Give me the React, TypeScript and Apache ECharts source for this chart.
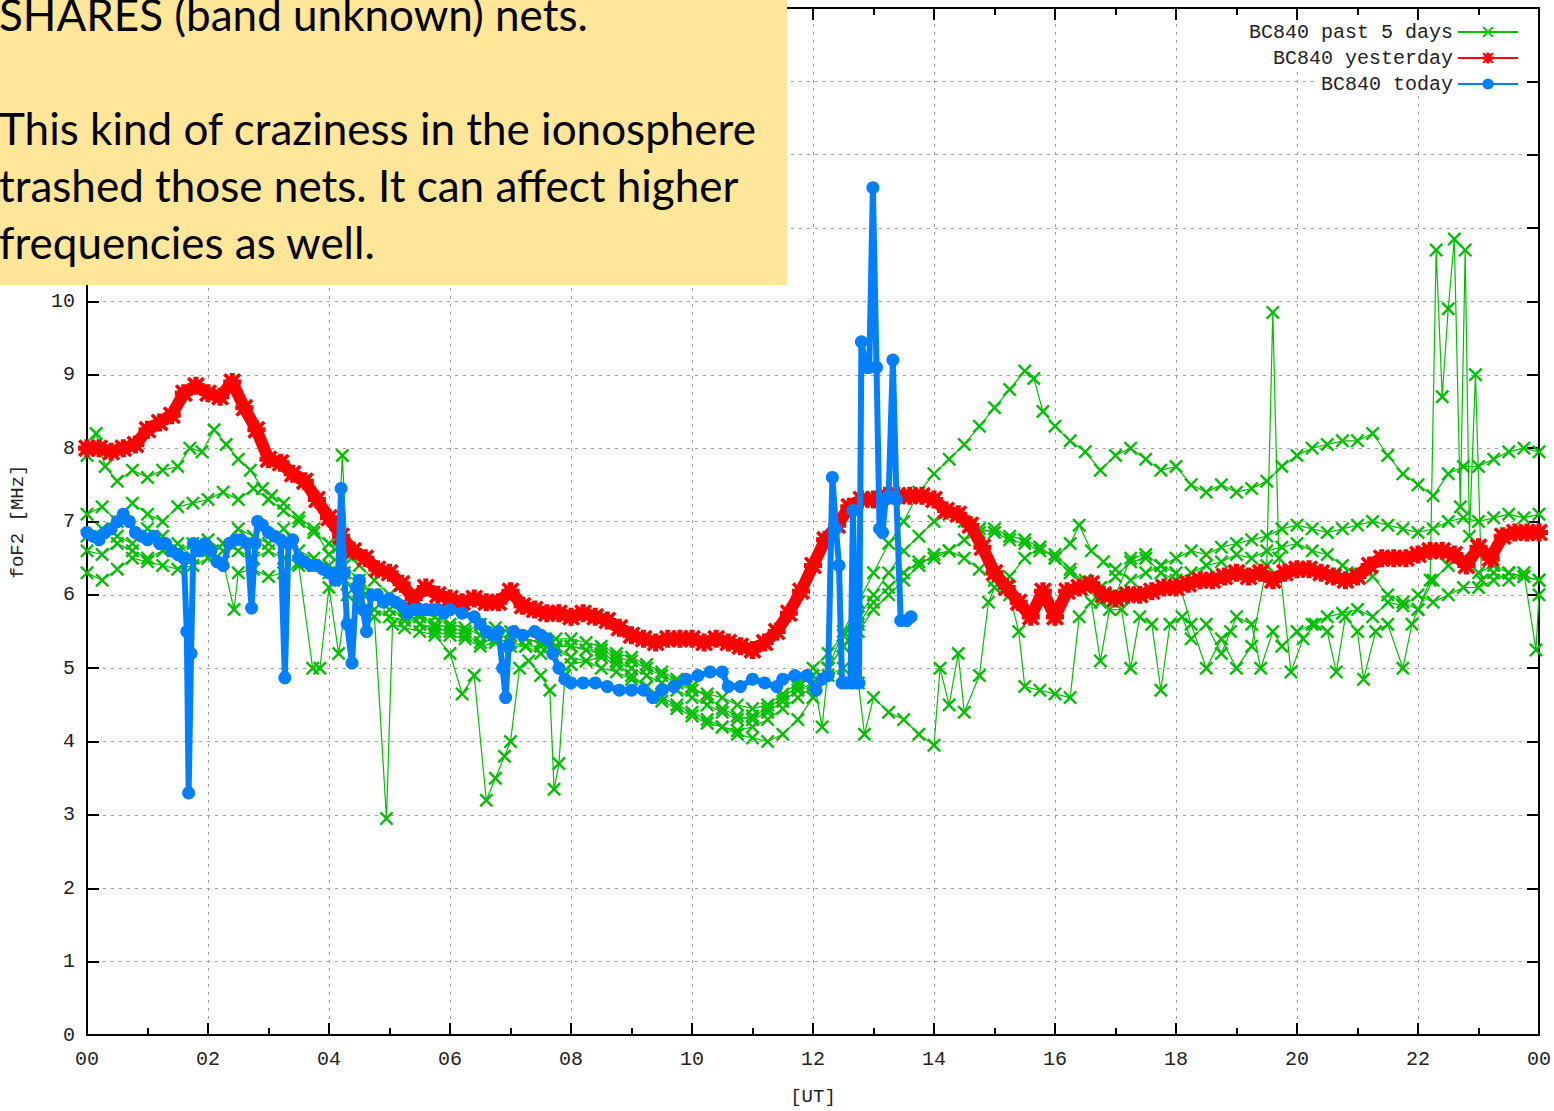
import React, { useEffect, useRef } from "react";
import * as echarts from "echarts";

const MONO = "'Liberation Mono', 'DejaVu Sans Mono', monospace";
const GREEN = "#00c000";
const RED = "#ff0000";
const BLUE = "#0080ff";

const LEGEND_NAMES = ["BC840 past 5 days", "BC840 yesterday", "BC840 today"];

const NOTE_LINES = [
  "SHARES (band unknown) nets.",
  "",
  "This kind of craziness in the ionosphere",
  "trashed those nets. It can affect higher",
  "frequencies as well.",
];

// yesterday: one value every 0.2 h from 00 to 24 UT
const YESTERDAY_STEP = 0.2;
const YESTERDAY = [
  8.0, 8.0, 7.95, 8.0, 8.05, 8.25, 8.35, 8.45, 8.75, 8.85,
  8.75, 8.7, 8.9, 8.55, 8.25, 7.85, 7.8, 7.65, 7.55, 7.3,
  7.05, 6.8, 6.6, 6.5, 6.35, 6.3, 6.15, 5.95, 6.1, 6.0,
  5.95, 5.9, 5.95, 5.9, 5.9, 6.05, 5.85, 5.8, 5.75, 5.75,
  5.7, 5.75, 5.7, 5.65, 5.55, 5.45, 5.4, 5.35, 5.4, 5.4,
  5.4, 5.35, 5.4, 5.35, 5.3, 5.25, 5.35, 5.5, 5.75, 6.05,
  6.4, 6.75, 6.95, 7.2, 7.3, 7.3, 7.35, 7.35, 7.35, 7.35,
  7.3, 7.15, 7.1, 6.95, 6.65, 6.3, 6.1, 5.9, 5.7, 6.05,
  5.7, 6.05, 6.1, 6.15, 6.0, 5.95, 6.0, 6.0, 6.05, 6.1,
  6.1, 6.15, 6.2, 6.2, 6.25, 6.3, 6.25, 6.3, 6.2, 6.3,
  6.35, 6.35, 6.3, 6.25, 6.2, 6.25, 6.4, 6.5, 6.5, 6.5,
  6.55, 6.6, 6.6, 6.55, 6.4, 6.65, 6.5, 6.8, 6.85, 6.85,
  6.85,
];

const TODAY: [number, number][] = [
  [0.0, 6.85], [0.1, 6.8], [0.2, 6.75], [0.3, 6.85], [0.4, 6.9], [0.5, 7.0], [0.6, 7.1],
  [0.7, 7.0], [0.8, 6.85], [0.9, 6.8], [1.0, 6.75], [1.1, 6.8], [1.2, 6.7], [1.3, 6.7],
  [1.4, 6.6], [1.5, 6.55], [1.6, 6.5], [1.65, 5.5], [1.68, 3.3], [1.72, 5.2], [1.76, 6.7],
  [1.85, 6.6], [1.95, 6.7], [2.05, 6.6], [2.15, 6.45], [2.25, 6.4], [2.35, 6.7], [2.45, 6.75],
  [2.55, 6.75], [2.65, 6.7], [2.72, 5.82], [2.78, 6.7], [2.82, 7.0], [2.9, 6.95], [3.0, 6.85],
  [3.1, 6.8], [3.2, 6.75], [3.27, 4.87], [3.33, 6.7], [3.4, 6.75], [3.5, 6.5], [3.6, 6.45],
  [3.7, 6.4], [3.8, 6.4], [3.9, 6.35], [4.0, 6.3], [4.1, 6.2], [4.15, 6.3], [4.2, 7.45],
  [4.25, 6.3], [4.3, 5.6], [4.38, 5.07], [4.45, 6.1], [4.5, 6.2], [4.56, 5.8], [4.62, 5.5],
  [4.7, 6.0], [4.8, 6.0], [4.9, 5.9], [5.0, 5.95], [5.1, 5.9], [5.2, 5.85], [5.3, 5.75],
  [5.4, 5.8], [5.5, 5.8], [5.6, 5.8], [5.7, 5.8], [5.8, 5.8], [5.9, 5.75], [6.0, 5.8],
  [6.2, 5.75], [6.4, 5.7], [6.5, 5.6], [6.6, 5.5], [6.7, 5.45], [6.8, 5.5], [6.87, 5.0],
  [6.92, 4.6], [6.97, 5.3], [7.05, 5.5], [7.2, 5.45], [7.4, 5.5], [7.5, 5.45], [7.6, 5.4],
  [7.7, 5.2], [7.8, 5.0], [7.9, 4.85], [8.0, 4.8], [8.2, 4.8], [8.4, 4.8], [8.6, 4.75],
  [8.8, 4.7], [9.0, 4.7], [9.2, 4.7], [9.35, 4.6], [9.5, 4.7], [9.7, 4.75], [9.9, 4.85],
  [10.1, 4.9], [10.3, 4.95], [10.5, 4.95], [10.6, 4.75], [10.8, 4.75], [11.0, 4.85],
  [11.2, 4.8], [11.4, 4.75], [11.5, 4.85], [11.7, 4.9], [11.9, 4.9], [12.05, 4.7],
  [12.15, 4.85], [12.25, 4.9], [12.32, 7.6], [12.38, 6.9], [12.43, 6.4], [12.48, 4.8],
  [12.55, 4.8], [12.62, 4.8], [12.66, 7.15], [12.72, 4.8], [12.76, 4.8], [12.8, 9.45],
  [12.88, 9.1], [12.93, 9.1], [12.99, 11.55], [13.05, 9.1], [13.1, 6.9], [13.15, 6.85],
  [13.2, 7.3], [13.25, 7.35], [13.32, 9.2], [13.38, 7.3], [13.45, 5.65], [13.55, 5.65],
  [13.62, 5.7],
];

const PAST_DAY_1: [number, number][] = [
  [0, 7.9], [0.15, 8.2], [0.3, 7.75], [0.5, 7.55], [0.75, 7.7], [1.0, 7.6], [1.25, 7.7],
  [1.5, 7.75], [1.7, 8.0], [1.9, 7.95], [2.1, 8.25], [2.3, 8.05], [2.5, 7.85], [2.7, 7.7],
  [2.9, 7.45], [3.05, 7.35], [3.25, 7.25], [3.5, 7.05], [3.75, 6.9], [4.0, 6.55], [4.25, 6.4],
  [4.5, 6.2], [4.75, 6.0], [5.0, 5.9], [5.25, 5.8], [5.5, 5.6], [5.75, 5.5], [6.0, 5.45],
  [6.25, 5.4], [6.5, 5.3], [6.75, 5.35], [7.0, 5.3], [7.25, 5.3], [7.5, 5.2], [7.75, 5.25],
  [8.0, 5.15], [8.25, 5.1], [8.5, 5.0], [8.75, 4.95], [9.0, 4.85], [9.25, 4.75], [9.5, 4.6],
  [9.75, 4.5], [10.0, 4.4], [10.25, 4.3], [10.5, 4.2], [10.75, 4.1], [11.0, 4.05], [11.25, 4.0],
  [11.5, 4.1], [11.75, 4.3], [12.0, 4.6], [12.25, 5.0], [12.5, 5.5], [12.75, 5.9], [13.0, 6.3],
  [13.25, 6.7], [13.5, 7.0], [13.75, 7.4], [14.0, 7.65], [14.25, 7.85], [14.5, 8.05],
  [14.75, 8.3], [15.0, 8.55], [15.25, 8.8], [15.5, 9.05], [15.65, 8.95], [15.8, 8.5],
  [16.0, 8.3], [16.25, 8.1], [16.5, 7.95], [16.75, 7.7], [17.0, 7.9], [17.25, 8.0],
  [17.5, 7.85], [17.75, 7.7], [18.0, 7.75], [18.25, 7.5], [18.5, 7.4], [18.75, 7.5],
  [19.0, 7.4], [19.25, 7.45], [19.5, 7.55], [19.75, 7.75], [20.0, 7.9], [20.25, 8.0],
  [20.5, 8.05], [20.75, 8.1], [21.0, 8.1], [21.25, 8.2], [21.5, 7.9], [21.75, 7.65],
  [22.0, 7.5], [22.25, 7.35], [22.5, 7.65], [22.75, 7.75], [23.0, 7.75], [23.25, 7.85],
  [23.5, 7.95], [23.75, 8.0], [24.0, 7.95],
];

const PAST_DAY_2: [number, number][] = [
  [0, 7.1], [0.25, 7.2], [0.5, 7.0], [0.75, 7.25], [1.0, 7.1], [1.25, 7.0], [1.5, 7.2],
  [1.75, 7.25], [2.0, 7.3], [2.25, 7.4], [2.5, 7.3], [2.75, 7.45], [3.0, 7.3], [3.25, 7.15],
  [3.5, 7.0], [3.75, 6.85], [4.0, 6.7], [4.15, 6.65], [4.22, 7.9], [4.3, 6.55], [4.5, 6.4],
  [4.75, 6.2], [5.0, 6.0], [5.25, 5.85], [5.5, 5.75], [5.75, 5.7], [6.0, 5.6], [6.25, 5.55],
  [6.5, 5.45], [6.75, 5.4], [7.0, 5.45], [7.25, 5.4], [7.5, 5.35], [7.75, 5.4], [8.0, 5.4],
  [8.25, 5.35], [8.5, 5.3], [8.75, 5.2], [9.0, 5.15], [9.25, 5.05], [9.5, 4.95], [9.75, 4.85],
  [10.0, 4.75], [10.25, 4.6], [10.5, 4.45], [10.75, 4.35], [11.0, 4.3], [11.25, 4.4],
  [11.5, 4.55], [11.75, 4.7], [12.0, 4.8], [12.25, 5.0], [12.5, 5.3], [12.75, 5.6], [13.0, 5.9],
  [13.25, 6.1], [13.5, 6.3], [13.75, 6.45], [14.0, 6.5], [14.25, 6.6], [14.5, 6.75],
  [14.75, 6.85], [15.0, 6.9], [15.25, 6.8], [15.5, 6.75], [15.75, 6.65], [16.0, 6.5],
  [16.25, 6.7], [16.4, 6.95], [16.6, 6.6], [16.8, 6.45], [17.0, 6.35], [17.25, 6.2],
  [17.5, 6.3], [17.75, 6.4], [18.0, 6.5], [18.25, 6.6], [18.5, 6.55], [18.75, 6.65],
  [19.0, 6.7], [19.25, 6.75], [19.5, 6.8], [19.75, 6.9], [20.0, 6.95], [20.25, 6.9],
  [20.5, 6.85], [20.75, 6.9], [21.0, 6.95], [21.25, 7.0], [21.5, 6.95], [21.75, 6.9],
  [22.0, 6.85], [22.25, 6.9], [22.5, 7.0], [22.75, 7.05], [23.0, 7.0], [23.25, 7.05],
  [23.5, 7.1], [23.75, 7.05], [24.0, 7.1],
];

const PAST_DAY_3: [number, number][] = [
  [0, 6.3], [0.25, 6.2], [0.5, 6.35], [0.75, 6.5], [1.0, 6.45], [1.25, 6.4], [1.5, 6.35],
  [1.75, 6.4], [2.0, 6.5], [2.25, 6.45], [2.43, 5.8], [2.5, 6.3], [2.75, 6.35], [3.0, 6.25],
  [3.25, 6.3], [3.5, 6.4], [3.73, 5.0], [3.85, 5.0], [4.0, 6.1], [4.16, 5.2], [4.3, 6.0],
  [4.5, 5.9], [4.75, 5.7], [4.95, 2.95], [5.05, 5.6], [5.25, 5.55], [5.5, 5.5], [5.75, 5.45],
  [6.0, 5.2], [6.2, 4.65], [6.4, 4.9], [6.6, 3.2], [6.75, 3.5], [6.9, 3.8], [7.0, 4.0],
  [7.15, 5.0], [7.3, 5.1], [7.5, 4.9], [7.65, 4.7], [7.72, 3.35], [7.8, 3.7], [7.9, 4.9],
  [8.0, 5.05], [8.25, 5.1], [8.5, 5.15], [8.75, 5.05], [9.0, 4.9], [9.25, 4.75], [9.5, 4.55],
  [9.75, 4.45], [10.0, 4.35], [10.25, 4.25], [10.5, 4.2], [10.75, 4.15], [11.0, 4.2],
  [11.25, 4.3], [11.5, 4.45], [11.75, 4.6], [12.0, 4.75], [12.25, 4.9], [12.5, 5.0],
  [12.75, 4.8], [12.85, 4.1], [13.0, 4.6], [13.25, 4.4], [13.5, 4.3], [13.75, 4.1],
  [14.0, 3.95], [14.1, 5.0], [14.25, 4.5], [14.4, 5.2], [14.5, 4.4], [14.75, 4.9], [14.9, 5.9],
  [15.0, 6.1], [15.25, 6.25], [15.5, 6.5], [15.75, 6.65], [16.0, 6.5], [16.25, 6.3],
  [16.5, 6.2], [16.75, 6.1], [17.0, 6.25], [17.25, 6.45], [17.5, 6.5], [17.75, 6.3],
  [18.0, 6.2], [18.25, 6.3], [18.5, 6.4], [18.75, 6.45], [19.0, 6.55], [19.25, 6.5],
  [19.5, 6.6], [19.75, 6.65], [20.0, 6.7], [20.25, 6.6], [20.5, 6.55], [20.75, 6.4],
  [21.0, 6.3], [21.25, 6.25], [21.5, 6.0], [21.75, 5.9], [22.0, 5.8], [22.25, 6.2],
  [22.5, 6.4], [22.75, 6.5], [23.0, 6.3], [23.25, 6.4], [23.5, 6.3], [23.75, 6.25], [24.0, 6.2],
];

const PAST_DAY_4: [number, number][] = [
  [0, 6.6], [0.25, 6.55], [0.5, 6.7], [0.75, 6.6], [1.0, 6.5], [1.25, 6.6], [1.5, 6.7],
  [1.75, 6.5], [2.0, 6.6], [2.25, 6.7], [2.5, 6.6], [2.75, 6.5], [3.0, 6.6], [3.25, 6.5],
  [3.5, 6.45], [3.75, 6.4], [4.0, 6.3], [4.25, 6.2], [4.5, 6.1], [4.75, 5.8], [5.0, 5.7],
  [5.25, 5.65], [5.5, 5.7], [5.75, 5.6], [6.0, 5.55], [6.25, 5.5], [6.5, 5.6], [6.75, 5.55],
  [7.0, 5.5], [7.25, 5.4], [7.5, 5.35], [7.75, 5.3], [8.0, 5.3], [8.25, 5.25], [8.5, 5.2],
  [8.75, 5.1], [9.0, 5.0], [9.25, 4.9], [9.5, 4.8], [9.75, 4.7], [10.0, 4.6], [10.25, 4.5],
  [10.5, 4.4], [10.75, 4.3], [11.0, 4.35], [11.25, 4.45], [11.5, 4.6], [11.75, 4.75],
  [12.0, 4.9], [12.15, 4.2], [12.25, 5.0], [12.5, 5.3], [12.75, 5.5], [13.0, 5.8],
  [13.25, 6.0], [13.5, 6.2], [13.75, 6.4], [14.0, 6.55], [14.25, 6.6], [14.5, 6.5],
  [14.75, 6.35], [15.0, 6.2], [15.25, 6.0], [15.4, 5.5], [15.5, 4.75], [15.75, 4.7],
  [16.0, 4.65], [16.25, 4.6], [16.4, 5.7], [16.6, 5.9], [16.75, 5.1], [16.9, 5.8],
  [17.1, 5.8], [17.25, 5.0], [17.4, 5.7], [17.6, 5.6], [17.75, 4.7], [17.9, 5.6],
  [18.1, 5.7], [18.25, 5.4], [18.5, 5.6], [18.75, 5.2], [18.9, 5.5], [19.0, 5.7],
  [19.25, 5.6], [19.4, 5.0], [19.6, 5.5], [19.75, 5.3], [20.0, 5.5], [20.25, 5.6],
  [20.5, 5.7], [20.75, 5.75], [21.0, 5.8], [21.25, 5.7], [21.5, 5.9], [21.75, 5.85],
  [22.0, 6.0], [22.25, 5.9], [22.5, 6.0], [22.75, 6.1], [23.0, 6.1], [23.25, 6.2],
  [23.5, 6.3], [23.75, 6.25], [24.0, 6.2],
];

const PAST_DAY_5: [number, number][] = [
  [0, 6.8], [0.25, 6.9], [0.5, 6.8], [0.75, 6.7], [1.0, 6.9], [1.25, 6.8], [1.5, 6.6],
  [1.75, 6.7], [2.0, 6.75], [2.25, 6.6], [2.5, 6.9], [2.75, 6.8], [3.0, 6.7], [3.25, 6.9],
  [3.5, 6.6], [3.75, 6.5], [4.0, 6.4], [4.25, 6.3], [4.5, 6.15], [4.75, 6.0], [5.0, 5.8],
  [5.25, 5.7], [5.5, 5.6], [5.75, 5.55], [6.0, 5.5], [6.25, 5.45], [6.5, 5.35], [6.75, 5.4],
  [7.0, 5.35], [7.25, 5.3], [7.5, 5.3], [7.75, 5.3], [8.0, 5.3], [8.25, 5.25], [8.5, 5.25],
  [8.75, 5.15], [9.0, 5.1], [9.25, 5.0], [9.5, 4.9], [9.75, 4.8], [10.0, 4.7], [10.25, 4.65],
  [10.5, 4.6], [10.75, 4.5], [11.0, 4.45], [11.25, 4.5], [11.5, 4.65], [11.75, 4.8],
  [12.0, 5.0], [12.25, 5.2], [12.5, 5.45], [12.75, 5.7], [13.0, 6.0], [13.25, 6.3],
  [13.5, 6.6], [13.75, 6.8], [14.0, 7.0], [14.25, 7.1], [14.5, 7.0], [14.75, 6.9],
  [15.0, 6.85], [15.25, 6.75], [15.5, 6.7], [15.75, 6.6], [16.0, 6.55], [16.25, 6.35],
  [16.5, 6.1], [16.75, 5.9], [17.0, 6.0], [17.25, 6.5], [17.5, 6.55], [17.75, 6.4],
  [18.0, 6.3], [18.25, 5.6], [18.5, 5.0], [18.75, 5.4], [19.0, 5.0], [19.25, 5.3],
  [19.5, 6.4], [19.6, 9.85], [19.7, 6.5], [19.9, 4.95], [20.1, 5.4], [20.3, 5.6],
  [20.5, 5.5], [20.65, 4.95], [20.8, 5.7], [21.0, 5.5], [21.1, 4.85], [21.3, 5.5],
  [21.5, 5.6], [21.75, 5.0], [21.9, 5.6], [22.0, 5.8], [22.2, 6.2], [22.3, 10.7],
  [22.4, 8.7], [22.5, 9.9], [22.6, 10.85], [22.7, 7.2], [22.78, 10.7], [22.85, 6.8],
  [22.95, 9.0], [23.05, 6.2], [23.25, 6.3], [23.5, 6.2], [23.75, 6.3], [23.95, 5.25],
  [24.0, 6.0],
];

const PAST_DAYS = [PAST_DAY_1, PAST_DAY_2, PAST_DAY_3, PAST_DAY_4, PAST_DAY_5];

const X_SYMBOL = "path://M0,1.2L1.2,0L5,3.8L8.8,0L10,1.2L6.2,5L10,8.8L8.8,10L5,6.2L1.2,10L0,8.8L3.8,5Z";
const STAR_SYMBOL =
  "path://M3.6,0H6.4V3.6H10V6.4H6.4V10H3.6V6.4H0V3.6H3.6Z M1.3,0L5,3.3L8.7,0L10,1.3L6.7,5L10,8.7L8.7,10L5,6.7L1.3,10L0,8.7L3.3,5L0,1.3Z";

const pad2 = (v: number) => String(Math.round(v) % 24).padStart(2, "0");
// labels above 10 lie under the note box in the reference
const yLabel = (v: number) => (v > 10 ? "" : String(v));

function buildOption() {
  const axisLine = { show: true, onZero: false, lineStyle: { color: "#000", width: 2 } };
  const tickStyle = { color: "#000", width: 2 };
  const labelStyle = { fontFamily: MONO, fontSize: 20, color: "#222" };
  const split = { show: true, lineStyle: { color: "#a0a0a0", width: 1, type: [3, 5] } };

  const greenSeries = PAST_DAYS.map((d) => ({
    name: LEGEND_NAMES[0],
    type: "line",
    data: d,
    xAxisIndex: 0,
    yAxisIndex: 0,
    symbol: X_SYMBOL,
    symbolSize: 14,
    showAllSymbol: true,
    lineStyle: { color: GREEN, width: 1.2 },
    itemStyle: { color: GREEN },
    emphasis: { disabled: true },
    z: 2,
  }));

  return {
    animation: false,
    backgroundColor: "#fff",
    grid: {
      left: 87,
      right: 14,
      top: 8,
      bottom: 74,
      show: true,
      borderColor: "#000",
      borderWidth: 2,
    },
    legend: LEGEND_NAMES.map((name, i) => ({
      data: [name],
      orient: "vertical",
      align: "right",
      right: 31,
      top: 20 + i * 26,
      itemWidth: 60,
      itemHeight: 14,
      padding: [2, 4],
      backgroundColor: "#fff",
      selectedMode: false,
      textStyle: { fontFamily: MONO, fontSize: 20, color: "#222" },
    })),
    xAxis: [
      {
        type: "value",
        min: 0,
        max: 24,
        interval: 2,
        position: "bottom",
        name: "[UT]",
        nameLocation: "middle",
        nameGap: 52,
        nameTextStyle: { fontFamily: MONO, fontSize: 19, color: "#222" },
        axisLine,
        axisTick: { show: true, inside: true, length: 12, lineStyle: tickStyle },
        minorTick: { show: true, splitNumber: 2, length: 7, lineStyle: tickStyle },
        axisLabel: { ...labelStyle, margin: 14, formatter: pad2, showMaxLabel: true, showMinLabel: true },
        splitLine: split,
      },
      {
        type: "value",
        min: 0,
        max: 24,
        interval: 2,
        position: "top",
        axisLine,
        axisTick: { show: true, inside: true, length: 12, lineStyle: tickStyle },
        minorTick: { show: true, splitNumber: 2, length: 7, lineStyle: tickStyle },
        axisLabel: { show: false },
        splitLine: { show: false },
      },
    ],
    yAxis: [
      {
        type: "value",
        min: 0,
        max: 14,
        interval: 1,
        position: "left",
        name: "foF2 [MHz]",
        nameLocation: "middle",
        nameGap: 60,
        nameTextStyle: { fontFamily: MONO, fontSize: 19, color: "#222" },
        axisLine,
        axisTick: { show: true, inside: true, length: 12, lineStyle: tickStyle },
        axisLabel: { ...labelStyle, margin: 12, formatter: yLabel },
        splitLine: split,
      },
      {
        type: "value",
        min: 0,
        max: 14,
        interval: 1,
        position: "right",
        axisLine,
        axisTick: { show: true, inside: true, length: 12, lineStyle: tickStyle },
        axisLabel: { show: false },
        splitLine: { show: false },
      },
    ],
    series: [
      ...greenSeries,
      {
        name: LEGEND_NAMES[1],
        type: "line",
        data: YESTERDAY.map((v, i) => [Number((i * YESTERDAY_STEP).toFixed(2)), v]),
        xAxisIndex: 0,
        yAxisIndex: 0,
        symbol: STAR_SYMBOL,
        symbolSize: 18,
        showAllSymbol: true,
        lineStyle: { color: RED, width: 12 },
        itemStyle: { color: RED },
        emphasis: { disabled: true },
        z: 3,
      },
      {
        name: LEGEND_NAMES[2],
        type: "line",
        data: TODAY,
        xAxisIndex: 0,
        yAxisIndex: 0,
        symbol: "circle",
        symbolSize: 13,
        showAllSymbol: true,
        lineStyle: { color: BLUE, width: 6 },
        itemStyle: { color: BLUE },
        emphasis: { disabled: true },
        z: 4,
      },
    ],
    graphic: [
      {
        type: "rect",
        z: 100,
        shape: { x: 0, y: 0, width: 787, height: 285 },
        style: { fill: "#ffe699" },
      },
      {
        type: "text",
        z: 101,
        x: -1,
        y: -15,
        style: {
          text: NOTE_LINES.join("\n"),
          fontFamily: "Lato, 'Open Sans', sans-serif",
          fontSize: 44,
          lineHeight: 57,
          fill: "#000",
          verticalAlign: "top",
          align: "left",
        },
      },
    ],
  };
}

export default function App() {
  const ref = useRef<HTMLDivElement>(null);
  useEffect(() => {
    document.body.style.margin = "0";
    const chart = echarts.init(ref.current as HTMLDivElement, null, { renderer: "svg" });
    chart.setOption(buildOption() as any);
    return () => chart.dispose();
  }, []);
  return (
    <div
      ref={ref}
      style={{ position: "absolute", left: 0, top: 0, width: 1554, height: 1111, background: "#fff" }}
    />
  );
}
